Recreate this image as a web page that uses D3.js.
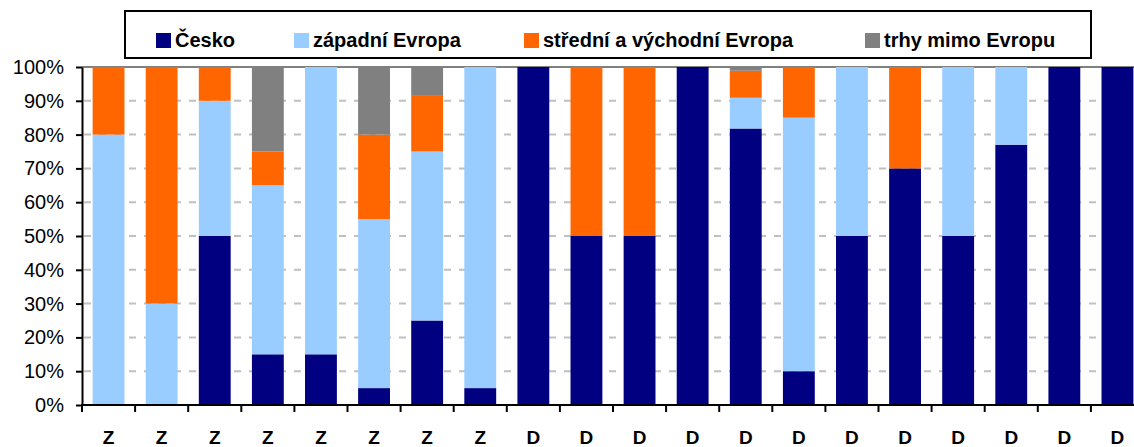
<!DOCTYPE html>
<html>
<head>
<meta charset="utf-8">
<script src="https://cdn.jsdelivr.net/npm/d3@7"></script>
<style>
  body { margin: 0; background: #fff; }
  text { font-family: Arial, 'Liberation Sans', sans-serif; }
</style>
</head>
<body>
<svg id="chart"></svg>
<script>
const categories = ['Z', 'Z', 'Z', 'Z', 'Z', 'Z', 'Z', 'Z', 'D', 'D', 'D', 'D', 'D', 'D', 'D', 'D', 'D', 'D', 'D', 'D']
const seriesNames = ['Česko', 'západní Evropa', 'střední a východní Evropa', 'trhy mimo Evropu']
const cesko = [0, 0, 50, 15, 15, 5, 25, 5, 100, 50, 50, 100, 81.8, 10, 50, 70, 50, 77, 100, 100]
const zapadni = [80, 30, 40, 50, 85, 50, 50, 95, 0, 0, 0, 0, 9.1, 75, 50, 0, 50, 23, 0, 0]
const stredni = [20, 70, 10, 10, 0, 25, 16.7, 0, 0, 50, 50, 0, 8, 15, 0, 30, 0, 0, 0, 0]
const mimo = [0, 0, 0, 25, 0, 20, 8.3, 0, 0, 0, 0, 0, 1.1, 0, 0, 0, 0, 0, 0, 0]
const yTicks = [0, 10, 20, 30, 40, 50, 60, 70, 80, 90, 100]

const colors = ['#000080', '#99ccff', '#ff6600', '#808080']

function render () {
  const width = 1134
  const height = 447
  const margin = { top: 67, left: 82, bottom: 42 }

  const svg = d3.select('#chart')
    .attr('width', width)
    .attr('height', height)

  const rows = categories.map((c, i) => ({
    i: i,
    cat: c,
    cesko: cesko[i],
    zapadni: zapadni[i],
    stredni: stredni[i],
    mimo: mimo[i]
  }))
  const keys = ['cesko', 'zapadni', 'stredni', 'mimo']
  const stacked = d3.stack().keys(keys)(rows)

  const x = d3.scaleBand()
    .domain(rows.map(d => d.i))
    .range([margin.left, 1144])
    .paddingInner(0.4)
    .paddingOuter(0.2)

  const y = d3.scaleLinear()
    .domain([0, 100])
    .range([height - margin.bottom, margin.top])

  // gridlines
  svg.append('g')
    .selectAll('line').data(yTicks.filter(t => t > 0)).enter().append('line')
    .attr('x1', margin.left)
    .attr('x2', width)
    .attr('y1', d => y(d))
    .attr('y2', d => y(d))
    .attr('stroke', d => d === 100 ? '#808080' : '#c0c0c0')
    .attr('stroke-width', 2)
    .attr('stroke-dasharray', d => d === 100 ? null : '7,8')
    .attr('stroke-dashoffset', -2)

  // bars
  svg.append('g')
    .selectAll('g').data(stacked).enter().append('g')
    .attr('fill', (d, k) => colors[k])
    .selectAll('rect').data(d => d).enter().append('rect')
    .attr('x', d => x(d.data.i))
    .attr('y', d => y(d[1]))
    .attr('height', d => y(d[0]) - y(d[1]))
    .attr('width', x.bandwidth())

  // y axis
  const yAxis = svg.append('g')
    .attr('transform', `translate(${margin.left},0)`)
    .call(d3.axisLeft(y).tickValues(yTicks).tickFormat(d => d + '%').tickSize(6).tickSizeOuter(0))
  yAxis.select('.domain').attr('stroke-width', 2)
  yAxis.selectAll('.tick line').attr('stroke-width', 2)
  yAxis.selectAll('.tick text')
    .attr('font-size', 20)
    .attr('font-family', 'Arial, Liberation Sans, sans-serif')
    .attr('fill', '#000')
    .attr('x', -18)

  // x axis
  const xAxis = svg.append('g')
    .attr('transform', `translate(0,${y(0)})`)
  xAxis.append('line')
    .attr('x1', margin.left - 1)
    .attr('x2', width)
    .attr('stroke', '#000')
    .attr('stroke-width', 2)
  const boundary = i => x(i) - x.step() * x.paddingInner() / 2 - (i === 0 ? x.step() * (x.paddingOuter() - x.paddingInner() / 2) : 0)
  xAxis.selectAll('line.tk').data(rows.map(d => d.i)).enter().append('line')
    .attr('class', 'tk')
    .attr('x1', d => boundary(d))
    .attr('x2', d => boundary(d))
    .attr('y1', 0)
    .attr('y2', 7)
    .attr('stroke', '#000')
    .attr('stroke-width', 2)
  xAxis.selectAll('text').data(rows).enter().append('text')
    .attr('x', d => x(d.i) + x.bandwidth() / 2)
    .attr('y', 39)
    .attr('text-anchor', 'middle')
    .attr('font-size', 19)
    .attr('font-weight', 'bold')
    .text(d => d.cat)

  // legend
  const legend = svg.append('g')
  legend.append('rect')
    .attr('x', 125)
    .attr('y', 11)
    .attr('width', 966)
    .attr('height', 47)
    .attr('fill', '#fff')
    .attr('stroke', '#000')
    .attr('stroke-width', 2)
  const legendX = [156, 294, 524, 865]
  const item = legend.selectAll('g.item').data(seriesNames).enter().append('g')
    .attr('class', 'item')
    .attr('transform', (d, k) => `translate(${legendX[k]},0)`)
  item.append('rect')
    .attr('y', 33)
    .attr('width', 15)
    .attr('height', 15)
    .attr('fill', (d, k) => colors[k])
  item.append('text')
    .attr('x', 19)
    .attr('y', 47)
    .attr('font-size', 20)
    .attr('font-weight', 'bold')
    .text(d => d)
}

render()
</script>
</body>
</html>
